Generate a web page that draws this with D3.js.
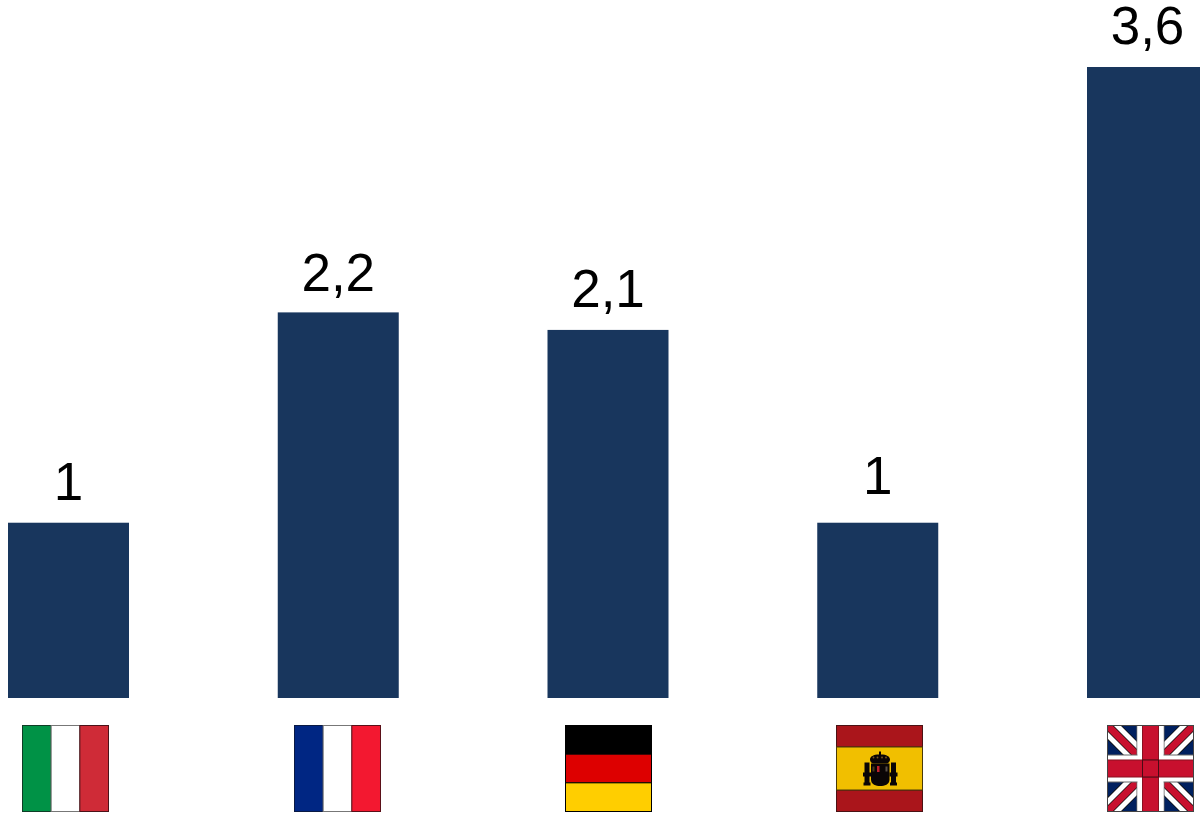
<!DOCTYPE html>
<html>
<head>
<meta charset="utf-8">
<script src="https://cdn.jsdelivr.net/npm/d3@7/dist/d3.min.js"></script>
<style>
html,body{margin:0;padding:0;background:#fff;overflow:hidden}
svg{display:block}
text{font-family:"Liberation Sans",Arial,sans-serif}
</style>
</head>
<body>
<svg id="chart" width="1200" height="813"></svg>
<script>
const countries = ["Italia", "Francia", "Germania", "Spagna", "Regno Unito"];
const values = [1, 2.2, 2.1, 1, 3.6];
const valueLabels = ["1", "2,2", "2,1", "1", "3,6"];

const svg = d3.select("#chart");
const baseline = 698;
const barColor = "#18365d";
const flagSize = 86;
const flagTop = 725;

const x = d3.scaleBand().domain(countries).range([8, 1208]).paddingInner(148.75 / 269.75).paddingOuter(0);
const y = d3.scaleLinear().domain([0, 3.6]).range([baseline, 67]);
// Flags sit on their own slightly wider rhythm than the bars
const flagX = d3.scalePoint().domain(countries).range([22.4, 1107]);

// Bars
svg.append("g").selectAll("rect").data(countries).join("rect")
  .attr("x", d => x(d))
  .attr("y", (d, i) => y(values[i]))
  .attr("width", x.bandwidth())
  .attr("height", (d, i) => baseline - y(values[i]))
  .attr("fill", barColor);

// Value labels: the gap above each bar varies slightly from bar to bar
const labelGaps = [23, 21, 23, 29, 23];
svg.append("g").selectAll("text").data(countries).join("text")
  .attr("x", d => x(d) + x.bandwidth() / 2)
  .attr("y", (d, i) => y(values[i]) - labelGaps[i])
  .attr("text-anchor", "middle")
  .attr("font-size", 53)
  .attr("fill", "#000")
  .text((d, i) => valueLabels[i]);

// Flag painters work in a local square of flagSize units
const S = flagSize;
const stroke = "#2a2a2a";
function band(g, a, b, c, d, fill, line = stroke) {
  g.append("rect").attr("x", a).attr("y", b).attr("width", c).attr("height", d)
    .attr("fill", fill).attr("stroke", line).attr("stroke-width", 1);
}
function vertical(g, cols) {
  cols.forEach((c, i) => band(g, i * S / 3, 0, S / 3, S, c.fill, c.line));
}
function horizontal(g, rows) {
  rows.forEach((c, i) => band(g, 0, i * S / 3, S, S / 3, c.fill, c.line));
}

const flagPainters = {
  "Italia": g => vertical(g, [
    {fill: "#009246", line: "#0f3d26"},
    {fill: "#ffffff", line: "#777"},
    {fill: "#cf2b37", line: "#4a1218"}
  ]),
  "Francia": g => vertical(g, [
    {fill: "#002683", line: "#0a1a44"},
    {fill: "#ffffff", line: "#777"},
    {fill: "#f31830", line: "#5a1018"}
  ]),
  "Germania": g => horizontal(g, [
    {fill: "#000000", line: "#000"},
    {fill: "#dd0000", line: "#000"},
    {fill: "#ffce00", line: "#000"}
  ]),
  "Spagna": g => {
    band(g, 0, 0, S, S / 4, "#aa151b", "#4a1214");
    band(g, 0, 3 * S / 4, S, S / 4, "#aa151b", "#4a1214");
    band(g, 0, S / 4, S, S / 2, "#f1bf00", "#4a3a08");
    // Coat of arms: crown, shield and the two pillars
    const arms = g.append("g").attr("fill", "#0a0506");
    arms.append("path").attr("d", "M42.5 26 H44.5 V29 C50 29 53.5 31 53.5 34 C53.5 36 52 37.5 50.5 38 H36.5 C35 37.5 33.5 36 33.5 34 C33.5 31 37 29 42.5 29 Z");
    arms.append("path").attr("d", "M34.5 38 H53 V54 C53 59 48 60.5 43.7 60.5 C39.5 60.5 34.5 59 34.5 54 Z");
    [[28, 33], [54.5, 59.5]].forEach(([a, b]) => {
      arms.append("rect").attr("x", a).attr("y", 37).attr("width", b - a).attr("height", 22);
      arms.append("rect").attr("x", a - 1.5).attr("y", 47).attr("width", b - a + 3).attr("height", 4);
      arms.append("rect").attr("x", a - 1).attr("y", 57).attr("width", b - a + 2).attr("height", 3);
    });
    g.append("rect").attr("x", 40.5).attr("y", 40.5).attr("width", 2.5).attr("height", 6).attr("fill", "#c0202c");
    g.append("rect").attr("x", 36).attr("y", 41).attr("width", 2).attr("height", 5).attr("fill", "#4a3a18");
    g.append("rect").attr("x", 49).attr("y", 41).attr("width", 2).attr("height", 5).attr("fill", "#5a5048");
    [37, 41, 45.5, 49.5].forEach(cx => g.append("circle").attr("cx", cx).attr("cy", 32).attr("r", 0.9).attr("fill", "#7a5a20"));
  },
  "Regno Unito": g => {
    const navy = "#00205f", red = "#c8102e", ink = "#111";
    const mid = S / 2;
    g.append("rect").attr("width", S).attr("height", S).attr("fill", navy);
    const clipId = "uk-clip";
    g.append("clipPath").attr("id", clipId).append("rect").attr("width", S).attr("height", S);
    const c = g.append("g").attr("clip-path", `url(#${clipId})`);
    const line = (a, b, e, f, color, w) => c.append("line")
      .attr("x1", a).attr("y1", b).attr("x2", e).attr("y2", f)
      .attr("stroke", color).attr("stroke-width", w);
    // Saltire: outlined white bands with a red stripe
    [[0, 0, S, S], [S, 0, 0, S]].forEach(([a, b, e, f]) => {
      line(a, b, e, f, ink, 20);
      line(a, b, e, f, "#fff", 18.5);
      line(a, b, e, f, ink, 8.5);
      line(a, b, e, f, red, 7);
    });
    // Cross: white fimbriation, then the red arms with a dark central square
    band(c, mid - 13.5, 0, 27, S, "#fff", "#666");
    band(c, 0, mid - 13.5, S, 27, "#fff", "#666");
    c.append("rect").attr("x", mid - 13).attr("y", 0).attr("width", 26).attr("height", S).attr("fill", "#fff");
    band(c, mid - 8, 0, 16, S, red, "#8a1020");
    band(c, 0, mid - 8.5, S, 17, red, "#8a1020");
    c.append("rect").attr("x", mid - 8).attr("y", mid - 8.5).attr("width", 16).attr("height", 17)
      .attr("fill", red).attr("stroke", "#4a0a14");
    g.append("rect").attr("width", S).attr("height", S).attr("fill", "none").attr("stroke", "#444");
  }
};

// One flag under each bar
svg.append("g").selectAll("g").data(countries).join("g")
  .attr("transform", d => `translate(${Math.round(flagX(d)) + 0.5},${flagTop + 0.5})`)
  .each(function (d) { flagPainters[d](d3.select(this)); });
</script>
</body>
</html>
